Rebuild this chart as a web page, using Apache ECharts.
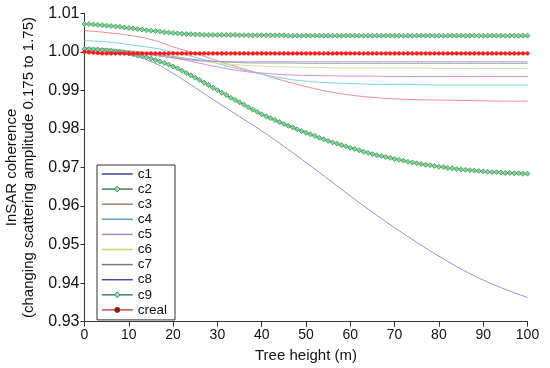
<!DOCTYPE html>
<html>
<head>
<meta charset="utf-8">
<script src="https://cdn.jsdelivr.net/npm/echarts@6/dist/echarts.min.js"></script>
<style>
html,body{margin:0;padding:0;background:#fff;}
#chart{width:550px;height:368px;}
</style>
</head>
<body>
<div id="chart"></div>
<script>
// Tree heights (m)
const heightsFine = [0,1,2,3,4,5,6,7,8,9,10,11,12,13,14,15,16,17,18,19,20,21,22,23,24,25,26,27,28,29,30,31,32,33,34,35,36,37,38,39,40,41,42,43,44,45,46,47,48,49,50,51,52,53,54,55,56,57,58,59,60,61,62,63,64,65,66,67,68,69,70,71,72,73,74,75,76,77,78,79,80,81,82,83,84,85,86,87,88,89,90,91,92,93,94,95,96,97,98,99,100];
const heightsCoarse = [0,5,10,15,20,25,30,35,40,45,50,55,60,65,70,75,80,85,90,95,100];

const xTicks = [0,10,20,30,40,50,60,70,80,90,100];
const yTicks = [0.93,0.94,0.95,0.96,0.97,0.98,0.99,1.00,1.01];

// Series sampled every 5 m
const c1 = [1.0005,1.0001,0.9992,0.9975,0.9944,0.9907,0.9869,0.9832,0.9795,0.9755,0.9713,0.9670,0.9626,0.9584,0.9544,0.9506,0.9470,0.9437,0.9408,0.9384,0.9363];
const c3 = [1.0055,1.0050,1.0043,1.0032,1.0013,0.9996,0.9977,0.9959,0.9942,0.9925,0.9910,0.9897,0.9888,0.9882,0.9878,0.9876,0.9875,0.9874,0.9873,0.9872,0.9872];
const c4 = [1.0029,1.0026,1.0019,1.0011,1.0000,0.9986,0.9970,0.9955,0.9942,0.9931,0.9924,0.9920,0.9918,0.9916,0.9915,0.9915,0.9914,0.9914,0.9914,0.9914,0.9914];
const c5 = [1.0006,1.0004,1.0000,0.9994,0.9985,0.9973,0.9961,0.9951,0.9945,0.9941,0.9939,0.9938,0.9937,0.9937,0.9936,0.9936,0.9936,0.9936,0.9936,0.9936,0.9936];
const c6 = [1.0009,1.0006,1.0002,0.9996,0.9988,0.9979,0.9971,0.9966,0.9963,0.9961,0.9960,0.9959,0.9958,0.9958,0.9958,0.9958,0.9957,0.9957,0.9957,0.9957,0.9957];
const c7 = [1.0011,1.0008,1.0003,0.9996,0.9988,0.9980,0.9975,0.9972,0.9971,0.9971,0.9970,0.9970,0.9970,0.9970,0.9970,0.9970,0.9970,0.9970,0.9970,0.9970,0.9970];
const c8 = [1.0008,1.0005,1.0000,0.9992,0.9984,0.9978,0.9975,0.9974,0.9974,0.9974,0.9974,0.9974,0.9974,0.9974,0.9974,0.9974,0.9974,0.9974,0.9974,0.9974,0.9974];

// Series sampled every 1 m (drawn with markers)
const c2 = [1.0007,1.0007,1.0006,1.0006,1.0005,1.0004,1.0003,1.0001,1.0000,0.9998,0.9996,
0.9994,0.9991,0.9989,0.9986,0.9983,0.9979,0.9975,0.9971,0.9967,0.9962,
0.9957,0.9951,0.9945,0.9939,0.9933,0.9927,0.9920,0.9914,0.9907,0.9901,
0.9894,0.9888,0.9881,0.9875,0.9869,0.9863,0.9856,0.9850,0.9844,0.9838,
0.9833,0.9828,0.9823,0.9818,0.9813,0.9808,0.9804,0.9799,0.9795,0.9790,
0.9786,0.9782,0.9777,0.9773,0.9769,0.9765,0.9762,0.9758,0.9755,0.9751,
0.9748,0.9745,0.9741,0.9738,0.9735,0.9732,0.9730,0.9727,0.9725,0.9722,
0.9720,0.9718,0.9715,0.9713,0.9711,0.9709,0.9707,0.9706,0.9704,0.9702,
0.9701,0.9699,0.9698,0.9696,0.9695,0.9694,0.9693,0.9692,0.9691,0.9690,
0.9689,0.9688,0.9688,0.9687,0.9686,0.9686,0.9685,0.9685,0.9684,0.9684];
const c9 = [1.0072,1.0072,1.0071,1.0070,1.0069,1.0068,1.0067,1.0066,1.0065,1.0063,1.0062,
1.0061,1.0059,1.0058,1.0056,1.0055,1.0054,1.0053,1.0051,1.0050,1.0049,
1.0048,1.0047,1.0046,1.0046,1.0045,1.0045,1.0044,1.0044,1.0044,1.0044,
1.0044,1.0044,1.0044,1.0044,1.0043,1.0043,1.0043,1.0043,1.0043,1.0043,
1.0043,1.0043,1.0043,1.0043,1.0043,1.0042,1.0042,1.0042,1.0042,1.0042,
1.0042,1.0042,1.0042,1.0042,1.0042,1.0042,1.0042,1.0042,1.0042,1.0042,
1.0042,1.0042,1.0042,1.0042,1.0042,1.0042,1.0042,1.0042,1.0042,1.0042,
1.0042,1.0042,1.0042,1.0042,1.0042,1.0042,1.0042,1.0042,1.0042,1.0042,
1.0042,1.0042,1.0042,1.0042,1.0042,1.0042,1.0042,1.0042,1.0042,1.0042,
1.0042,1.0042,1.0042,1.0042,1.0042,1.0042,1.0042,1.0042,1.0042,1.0042];
const creal = [1.0000,0.9999,0.9998,0.9997,0.9996,0.9996,0.9996,0.9996,0.9996,0.9996,0.9996,
0.9996,0.9996,0.9996,0.9996,0.9996,0.9996,0.9996,0.9996,0.9996,0.9996,
0.9996,0.9996,0.9996,0.9996,0.9996,0.9996,0.9996,0.9996,0.9996,0.9996,
0.9996,0.9996,0.9996,0.9996,0.9996,0.9996,0.9996,0.9996,0.9996,0.9996,
0.9996,0.9996,0.9996,0.9996,0.9996,0.9996,0.9996,0.9996,0.9996,0.9996,
0.9996,0.9996,0.9996,0.9996,0.9996,0.9996,0.9996,0.9996,0.9996,0.9996,
0.9996,0.9996,0.9996,0.9996,0.9996,0.9996,0.9996,0.9996,0.9996,0.9996,
0.9996,0.9996,0.9996,0.9996,0.9996,0.9996,0.9996,0.9996,0.9996,0.9996,
0.9996,0.9996,0.9996,0.9996,0.9996,0.9996,0.9996,0.9996,0.9996,0.9996,
0.9996,0.9996,0.9996,0.9996,0.9996,0.9996,0.9996,0.9996,0.9996,0.9996];

const seriesNames = ['c1','c2','c3','c4','c5','c6','c7','c8','c9','creal'];
const markedNames = ['c2','c9','creal'];

const FONT = "'Liberation Sans', Arial, sans-serif";

function pairs(xs, ys){ return xs.map((x,i)=>[x, ys[i]]); }

function plain(name, xs, ys, color){
  return {name, type:'line', data:pairs(xs,ys), symbol:'none', smooth:true,
    lineStyle:{color, width:1}, itemStyle:{color}, z:2};
}
function marked(name, xs, ys, lineColor, fill, border, sym, size){
  return {name, type:'line', data:pairs(xs,ys), symbol:sym, symbolSize:size, showSymbol:true,
    lineStyle:{color:lineColor, width:1.2}, itemStyle:{color:fill, borderColor:border, borderWidth:0.8}, z:3};
}

const series = [
  plain('c1', heightsCoarse, c1, '#9592c8'),
  marked('c2', heightsFine, c2, '#3d9f5e', '#84d09c', '#3a9a5a', 'diamond', 5),
  plain('c3', heightsCoarse, c3, '#ec8a92'),
  plain('c4', heightsCoarse, c4, '#79d6cf'),
  plain('c5', heightsCoarse, c5, '#d98ad6'),
  plain('c6', heightsCoarse, c6, '#dcdc9e'),
  plain('c7', heightsCoarse, c7, '#a8a8b0'),
  plain('c8', heightsCoarse, c8, '#9a9ac8'),
  marked('c9', heightsFine, c9, '#3d9f5e', '#84d09c', '#3a9a5a', 'diamond', 5),
  marked('creal', heightsFine, creal, '#ff2a2a', '#ff1a1a', '#ff1a1a', 'circle', 3.5)
];

const legendColors = {
  c1:'#3d3d9e', c2:'#4c7c5c', c3:'#b07a6a', c4:'#6a98b8', c5:'#a888c8',
  c6:'#c8d46a', c7:'#7a7a7a', c8:'#4646a8', c9:'#4c7c5c', creal:'#c0504a'
};

function legendItem(n){
  const isMarked = markedNames.indexOf(n) >= 0;
  const item = {name:n, lineStyle:{color:legendColors[n], width:1.5}};
  if (!isMarked) {
    item.itemStyle = {opacity:0};
  } else if (n === 'creal') {
    item.itemStyle = {color:'#8a2010', borderColor:'#8a2010', borderWidth:0};
  } else {
    item.itemStyle = {color:'#a8e6b8', borderColor:'#2e7a46', borderWidth:1};
  }
  return item;
}

const chart = echarts.init(document.getElementById('chart'), null, {renderer:'canvas'});
chart.setOption({
  animation:false,
  backgroundColor:'#fff',
  textStyle:{fontFamily:FONT},
  grid:{left:84.5, right:22.5, top:13.3, bottom:46.3, containLabel:false, outerBoundsMode:'none'},
  legend:{
    orient:'vertical', left:97, top:165,
    padding:[2,8,3,4],
    borderColor:'#333', borderWidth:1,
    itemWidth:31, itemHeight:7, itemGap:1.1,
    textStyle:{fontFamily:FONT, fontSize:13.5, color:'#111'},
    data: seriesNames.map(legendItem)
  },
  xAxis:{
    type:'value', min:0, max:100, interval:10,
    name:'Tree height (m)', nameLocation:'middle', nameGap:27,
    nameTextStyle:{fontFamily:FONT, fontSize:15, color:'#111'},
    axisLine:{lineStyle:{color:'#333', width:1}},
    axisTick:{show:true, inside:false, length:5, lineStyle:{color:'#333'}},
    axisLabel:{fontFamily:FONT, fontSize:14, color:'#111', margin:6},
    splitLine:{show:false}
  },
  yAxis:{
    type:'value', min:0.93, max:1.01, interval:0.01,
    name:'InSAR coherence\n(changing scattering amplitude 0.175 to 1.75)',
    nameLocation:'middle', nameRotate:90, nameGap:43,
    nameTextStyle:{fontFamily:FONT, fontSize:15, color:'#111', lineHeight:17},
    axisLine:{show:true, lineStyle:{color:'#333', width:1}},
    axisTick:{show:true, inside:false, length:4, lineStyle:{color:'#333'}},
    axisLabel:{fontFamily:FONT, fontSize:16, color:'#111', margin:5, formatter:v=>v.toFixed(2)},
    splitLine:{show:false}
  },
  series
});
</script>
</body>
</html>
